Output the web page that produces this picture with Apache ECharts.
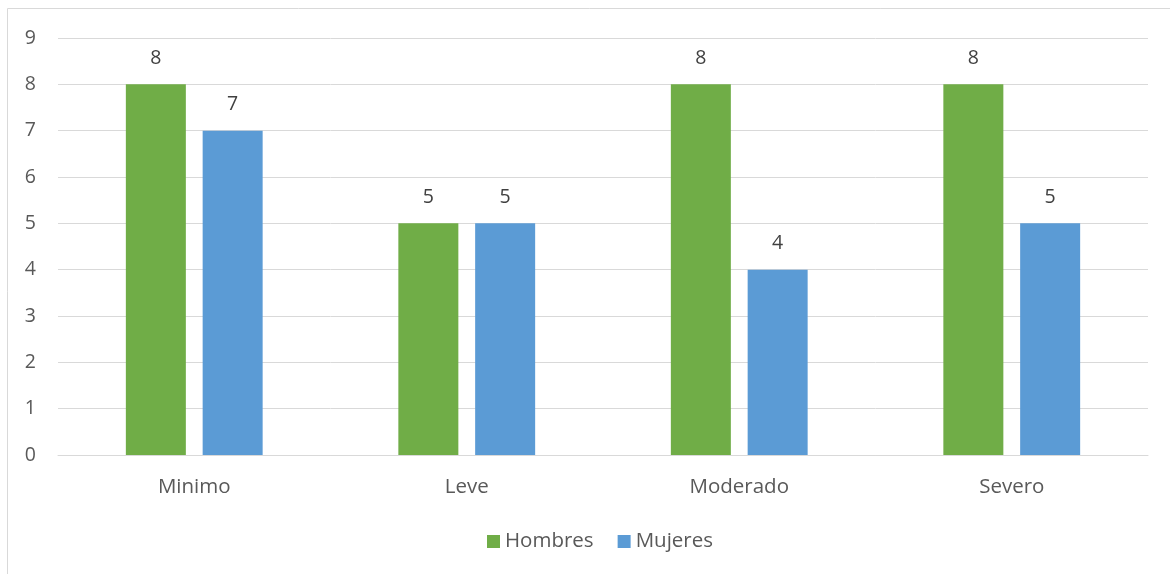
<!DOCTYPE html>
<html>
<head>
<meta charset="utf-8">
<script src="https://cdn.jsdelivr.net/npm/echarts@6/dist/echarts.min.js"></script>
<style>
  html, body { margin: 0; padding: 0; background: #fff; }
  #chart { width: 1170px; height: 574px; }
</style>
</head>
<body>
<div id="chart"></div>
<script>
// datos
const categorias = ['Minimo', 'Leve', 'Moderado', 'Severo']
const hombres = [8, 5, 8, 8]
const mujeres = [7, 5, 4, 5]

const fuente = '"Open Sans", "Liberation Sans", sans-serif'
const gris = '#595959'

const chart = echarts.init(document.getElementById('chart'))
chart.setOption({
  animation: false,
  textStyle: { fontFamily: fuente },
  graphic: [
    {
      type: 'rect',
      shape: { x: 7.5, y: 8.5, width: 1200, height: 600 },
      style: { fill: 'none', stroke: '#d9d9d9', lineWidth: 1 },
      silent: true
    }
  ],
  grid: { left: 58, right: 22, top: 38, bottom: 119 },
  legend: {
    bottom: 17,
    left: 482,
    itemWidth: 13,
    itemHeight: 13,
    itemGap: 24,
    icon: 'rect',
    textStyle: { color: gris, fontSize: 20.5, fontFamily: fuente },
    data: ['Hombres', 'Mujeres']
  },
  xAxis: {
    type: 'category',
    data: categorias,
    axisLine: { lineStyle: { color: '#d9d9d9', width: 1 } },
    axisTick: { show: false },
    axisLabel: { color: gris, fontSize: 20.5, margin: 22, fontFamily: fuente }
  },
  yAxis: {
    type: 'value',
    min: 0,
    max: 9,
    interval: 1,
    axisLine: { show: false },
    axisTick: { show: false },
    splitLine: { lineStyle: { color: '#d9d9d9', width: 1 } },
    axisLabel: { color: gris, fontSize: 19.5, margin: 22, fontFamily: fuente }
  },
  series: [
    {
      name: 'Hombres',
      type: 'bar',
      data: hombres,
      barWidth: 60,
      barGap: '28%',
      itemStyle: { color: '#70ad47' },
      label: { show: true, position: 'top', distance: 16, color: '#404040', fontSize: 19.5, fontFamily: fuente }
    },
    {
      name: 'Mujeres',
      type: 'bar',
      data: mujeres,
      barWidth: 60,
      barGap: '28%',
      itemStyle: { color: '#5b9bd5' },
      label: { show: true, position: 'top', distance: 16, color: '#404040', fontSize: 19.5, fontFamily: fuente }
    }
  ]
})
</script>
</body>
</html>
